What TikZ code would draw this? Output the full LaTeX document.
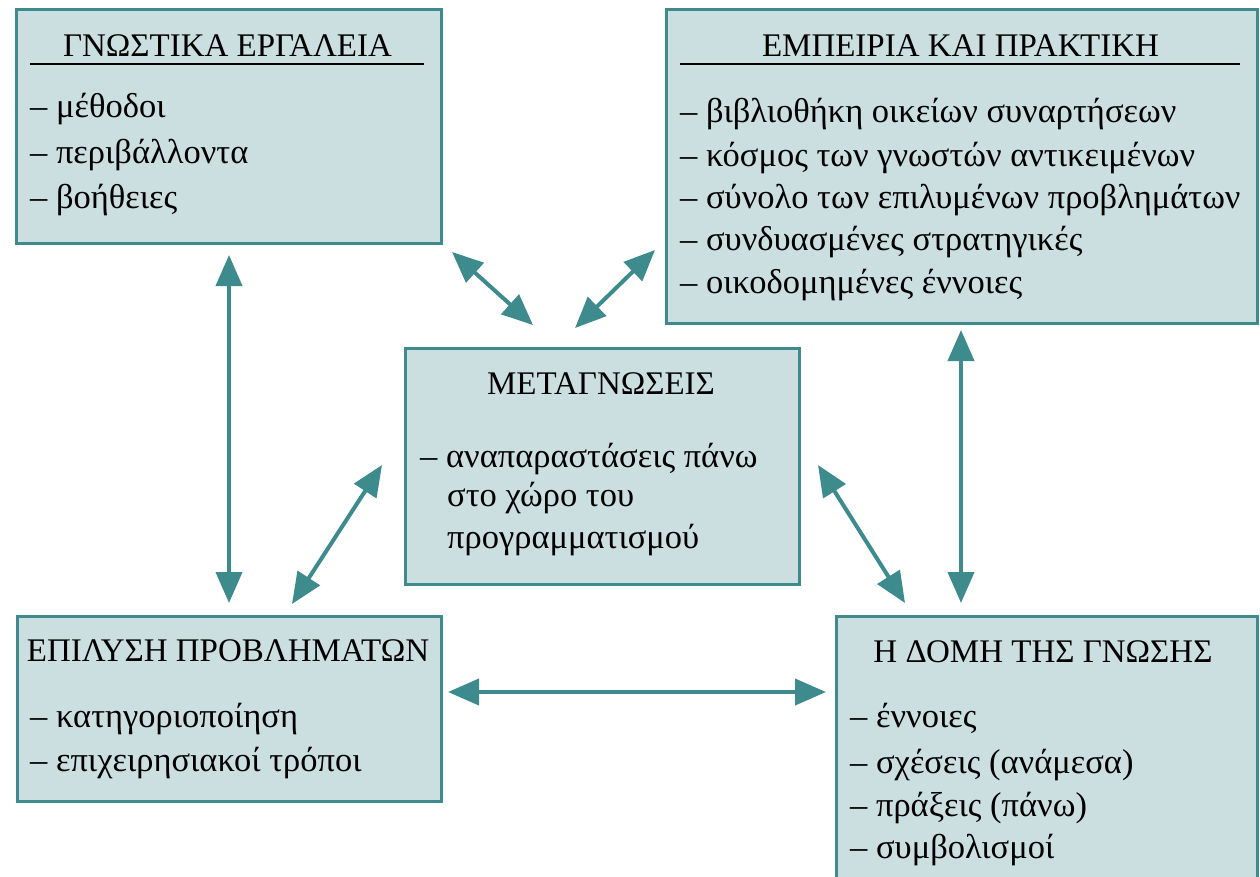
\documentclass[tikz,border=0pt]{standalone}
\usepackage{fontspec}
\setmainfont{Liberation Serif}
\usetikzlibrary{arrows.meta}
\definecolor{boxfill}{HTML}{CCDFE0}
\definecolor{boxline}{HTML}{3F8A8C}
\definecolor{arrowc}{HTML}{3D8B8D}
\tikzset{
  box/.style={draw=boxline, line width=3pt, fill=boxfill, anchor=north west, inner sep=0pt},
  txt/.style={anchor=base west, inner sep=0pt, font=\fontsize{34.5}{40}\selectfont},
  ttl/.style={anchor=base, inner sep=0pt, font=\fontsize{33}{38}\selectfont},
  biarrow/.style={draw=arrowc, line width=4pt, {Triangle[length=31pt,width=26pt]}-{Triangle[length=31pt,width=26pt]}},
  rule/.style={line width=2pt, black}
}
\begin{document}
\begin{tikzpicture}[x=1pt,y=-1pt]
\useasboundingbox (0,0) rectangle (1260,876);
\clip (0,0) rectangle (1260,876);
\fill[white] (0,0) rectangle (1260,876);

% boxes
\node[box, minimum width=425pt, minimum height=234pt] (b1) at (15,8) {};
\node[box, minimum width=591pt, minimum height=314pt] (b2) at (665,8) {};
\node[box, minimum width=394pt, minimum height=236pt] (b3) at (404,347) {};
\node[box, minimum width=424pt, minimum height=185pt] (b4) at (16,615) {};
\node[box, minimum width=421pt, minimum height=290pt] (b5) at (835,615) {};

% box 1
\node[ttl] (t1) at (227.5,56) {ΓΝΩΣΤΙΚΑ ΕΡΓΑΛΕΙΑ};
\draw[rule] (30,64) -- (424,64);
\node[txt] (l11) at (30,117) {– μέθοδοι};
\node[txt] (l12) at (30,163) {– περιβάλλοντα};
\node[txt] (l13) at (30,208) {– βοήθειες};

% box 2
\node[ttl] (t2) at (960.5,56) {ΕΜΠΕΙΡΙΑ ΚΑΙ ΠΡΑΚΤΙΚΗ};
\draw[rule] (680,64) -- (1240,64);
\node[txt] (l21) at (680,122) {– βιβλιοθήκη οικείων συναρτήσεων};
\node[txt] (l22) at (680,166) {– κόσμος των γνωστών αντικειμένων};
\node[txt] (l23) at (680,208) {– σύνολο των επιλυμένων προβλημάτων};
\node[txt] (l24) at (680,250) {– συνδυασμένες στρατηγικές};
\node[txt] (l25) at (680,293) {– οικοδομημένες έννοιες};

% box 3
\node[ttl] (t3) at (601,394) {ΜΕΤΑΓΝΩΣΕΙΣ};
\node[txt] (l31) at (420,467) {– αναπαραστάσεις πάνω};
\node[txt] (l32) at (447,506) {στο χώρο του};
\node[txt] (l33) at (447,548) {προγραμματισμού};

% box 4
\node[ttl] (t4) at (228,661) {ΕΠΙΛΥΣΗ ΠΡΟΒΛΗΜΑΤΩΝ};
\node[txt] (l41) at (30,727) {– κατηγοριοποίηση};
\node[txt] (l42) at (30,771) {– επιχειρησιακοί τρόποι};

% box 5
\node[ttl] (t5) at (1043,662) {Η ΔΟΜΗ ΤΗΣ ΓΝΩΣΗΣ};
\node[txt] (l51) at (850,727) {– έννοιες};
\node[txt] (l52) at (850,773) {– σχέσεις (ανάμεσα)};
\node[txt] (l53) at (850,816) {– πράξεις (πάνω)};
\node[txt] (l54) at (850,858) {– συμβολισμοί};

% arrow end points
\coordinate (a1s) at (229,255);  \coordinate (a1e) at (229,603);
\coordinate (a2s) at (961,330);  \coordinate (a2e) at (961,603);
\coordinate (a3s) at (448,692);  \coordinate (a3e) at (826,692);
\coordinate (a4s) at (452,252);  \coordinate (a4e) at (533,325);
\coordinate (a5s) at (655,250);  \coordinate (a5e) at (575,328);
\coordinate (a6s) at (292,604);  \coordinate (a6e) at (382,465);
\coordinate (a7s) at (818,465);  \coordinate (a7e) at (905,603);

\draw[biarrow] (a1s) -- (a1e);
\draw[biarrow] (a2s) -- (a2e);
\draw[biarrow] (a3s) -- (a3e);
\draw[biarrow] (a4s) -- (a4e);
\draw[biarrow] (a5s) -- (a5e);
\draw[biarrow] (a6s) -- (a6e);
\draw[biarrow] (a7s) -- (a7e);
\end{tikzpicture}
\end{document}
